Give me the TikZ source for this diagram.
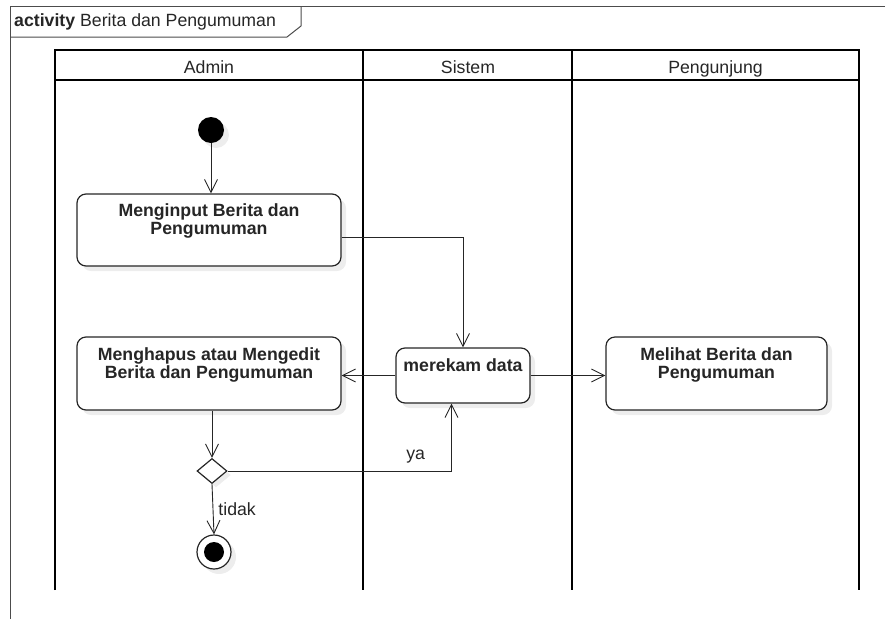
\documentclass[tikz,border=0pt]{standalone}
\usepackage{fontspec}
\setmainfont{Liberation Sans}
\usetikzlibrary{arrows.meta,shapes.geometric,shadows}

\begin{document}
\begin{tikzpicture}[x=1pt, y=-1pt,
	every node/.style={font=\fontsize{17.7}{18.5}\selectfont, text=black!85},
	actbox/.style={draw=black!85, line width=1.2pt, rounded corners=9pt, fill=white, inner sep=0pt,
		drop shadow={shadow xshift=5pt, shadow yshift=-5pt, fill=black, opacity=0.07}},
	acttext/.style={anchor=north, align=center, inner sep=0pt, font=\fontsize{17.7}{18.5}\selectfont\bfseries},
	flow/.style={draw=black!85, line width=0.9pt, -{Straight Barb[length=13pt, width=13pt, line width=0.9pt]}},
	lane/.style={line width=2.6pt, black},
	lanehead/.style={anchor=base, inner sep=0pt},
	guard/.style={inner sep=3pt}]
	  \useasboundingbox (0,0) rectangle (894,619);
	  % frame
	  \draw[black!70, line width=1pt] (885,6) -- (10,6) -- (10,619);
	  \draw[black!70, line width=1pt] (10,37) -- (287,37) -- (301,26) -- (301,6);
	  \node[anchor=base west, inner sep=0pt] (title) at (14,26.5) {\textbf{activity} Berita dan Pengumuman};
	  % swimlanes
	  \draw[lane] (55,590) -- (55,50) -- (859,50) -- (859,590);
	  \draw[lane] (55,80) -- (859,80);
	  \draw[lane] (363,50) -- (363,590);
	  \draw[lane] (572,50) -- (572,590);
	  \node[lanehead] (admin) at (209,73.5) {Admin};
	  \node[lanehead] (sistem) at (468,73.5) {Sistem};
	  \node[lanehead] (pengunjung) at (715.5,73.5) {Pengunjung};
	  % activities
	  \node[circle, fill=black, minimum size=26pt, inner sep=0pt,
		drop shadow={shadow xshift=5pt, shadow yshift=-5pt, fill=black, opacity=0.07}] (start) at (211,130) {};
	  \node[actbox, minimum width=264pt, minimum height=72pt] (input) at (209,230) {};
	  \node[acttext] (inputtext) at ([yshift=-10pt]input.north) {Menginput Berita dan\\Pengumuman};
	  \node[actbox, minimum width=134pt, minimum height=55pt] (merekam) at (463,375.5) {};
	  \node[acttext] (merekamtext) at ([yshift=-11pt]merekam.north) {merekam data};
	  \node[actbox, minimum width=264pt, minimum height=73pt] (hapus) at (209,373.5) {};
	  \node[acttext] (hapustext) at ([yshift=-11pt]hapus.north) {Menghapus atau Mengedit\\Berita dan Pengumuman};
	  \node[actbox, minimum width=221pt, minimum height=73pt] (melihat) at (716.5,373.5) {};
	  \node[acttext] (melihattext) at ([yshift=-11pt]melihat.north) {Melihat Berita dan\\Pengumuman};
	  \node[diamond, draw=black!85, line width=1.2pt, fill=white, inner sep=0pt, minimum width=30pt, minimum height=25pt,
		drop shadow={shadow xshift=4pt, shadow yshift=-4pt, fill=black, opacity=0.07}] (dec) at (212,471) {};
	  \node[circle, draw=black!85, line width=1.2pt, fill=white, minimum size=34pt, inner sep=0pt,
		drop shadow={shadow xshift=5pt, shadow yshift=-5pt, fill=black, opacity=0.07},
		path picture={\fill[black] (path picture bounding box.center) circle (10pt);}] (final) at (214,552) {};
	  % flows
	  \draw[flow] (start) -- (start |- input.north);
	  \draw[flow] ([yshift=-7.5pt]input.east) -| (merekam.north);
	  \draw[flow] (merekam.west) -- (merekam.west -| hapus.east);
	  \draw[flow] (merekam.east) -- (merekam.east -| melihat.west);
	  \draw[flow] (hapus.south -| dec.north) -- (dec.north);
	  \draw[flow] (dec.east) -| ([xshift=-11.5pt]merekam.south) node[guard, pos=0.42, above=4pt] (ya) {ya};
	  \draw[flow] (dec.south) -- (final.north) node[guard, midway, right=2pt] (tidak) {tidak};
	\end{tikzpicture}
\end{document}
